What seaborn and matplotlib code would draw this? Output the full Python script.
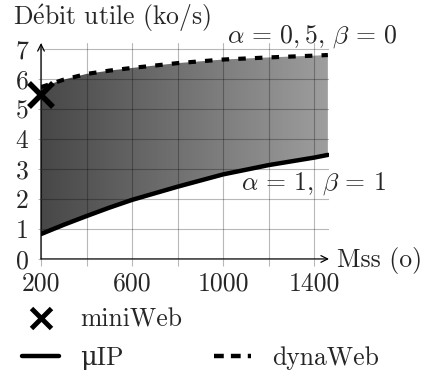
import numpy as np
import matplotlib
matplotlib.use("Agg")
import matplotlib.pyplot as plt
import seaborn as sns
from matplotlib.colors import LinearSegmentedColormap
from matplotlib.lines import Line2D

# ---- data ----
mss = [200, 300, 400, 500, 600, 800, 1000, 1200, 1400, 1460]
dynaweb = [5.73, 5.98, 6.17, 6.28, 6.37, 6.53, 6.65, 6.72, 6.78, 6.80]
uip = [0.83, 1.14, 1.43, 1.71, 1.97, 2.41, 2.82, 3.13, 3.38, 3.47]
miniweb_x = [200]
miniweb_y = [5.47]
xticks = [200, 400, 600, 800, 1000, 1200, 1400]
xticklabels = ["200", "", "600", "", "1000", "", "1400"]
yticks = [0, 1, 2, 3, 4, 5, 6, 7]

sns.set_theme(style="white")
plt.rcParams["font.family"] = ["cmr10", "DejaVu Serif"]
plt.rcParams["mathtext.fontset"] = "cm"
plt.rcParams["axes.formatter.use_mathtext"] = True
plt.rcParams["axes.unicode_minus"] = False

FS = 18.5
fig = plt.figure(figsize=(4.27, 3.71), dpi=100)
ax = fig.add_axes([0.096, 0.302, 0.6745, 0.582])

# gradient fill between the two curves
poly = ax.fill_between(mss, uip, dynaweb, facecolor="none", edgecolor="none")
cmap = LinearSegmentedColormap.from_list("g", [(0.28, 0.28, 0.28), (0.62, 0.62, 0.62)])
im = ax.imshow(np.linspace(0, 1, 256)[None, :], extent=[200, 1460, 0, 7.2],
               aspect="auto", cmap=cmap, zorder=1, origin="lower")
im.set_clip_path(poly.get_paths()[0], transform=ax.transData)

sns.lineplot(x=mss, y=uip, color="black", lw=3.2, ax=ax, zorder=3)
sns.lineplot(x=mss, y=dynaweb, color="black", lw=3.0, ax=ax, zorder=3,
             linestyle=(0, (1.8, 2.2)))
ax.plot(miniweb_x, miniweb_y, marker="x", ms=17, mew=4, color="black",
        ls="none", zorder=5, clip_on=False)

ax.set_xlim(200, 1465)
ax.set_ylim(0, 7.2)
ax.set_xticks(xticks)
ax.set_xticklabels(xticklabels)
ax.set_yticks(yticks)
ax.set_yticklabels([str(v) for v in yticks])
ax.grid(True, color="black", alpha=0.28, lw=0.8)
ax.set_axisbelow(False)
for s in ax.spines.values():
    s.set_visible(False)
ax.tick_params(axis="x", length=5, width=0.8, color=(0.72, 0.72, 0.72), pad=4,
               labelsize=FS, bottom=True)
ax.tick_params(axis="y", length=2, width=0.8, color=(0.72, 0.72, 0.72), pad=7,
               labelsize=FS, left=True)
ax.set_xlabel("")
ax.set_ylabel("")

# axes with arrow heads
ax.annotate("", xy=(1.0, 0), xytext=(0, 0), xycoords="axes fraction",
            arrowprops=dict(arrowstyle="->", lw=0.9, color="black",
                            shrinkA=0, shrinkB=0), zorder=6)
ax.annotate("", xy=(0, 1.0), xytext=(0, 0), xycoords="axes fraction",
            arrowprops=dict(arrowstyle="->", lw=0.9, color="black",
                            shrinkA=0, shrinkB=0), zorder=6)

fig.text(13 / 427, 1 - 18 / 371, r"D$\acute{\mathrm{e}}$bit utile (ko/s)",
         fontsize=FS, ha="left", va="center")
fig.text(227 / 427, 1 - 37 / 371, r"$\alpha\,=\,0,5,\,\beta\,=\,0$",
         fontsize=FS, ha="left", va="center")
fig.text(241 / 427, 1 - 184 / 371, r"$\alpha\,=\,1,\,\beta\,=\,1$",
         fontsize=FS, ha="left", va="center")
fig.text(337 / 427, 1 - 260 / 371, "Mss (o)", fontsize=FS,
         ha="left", va="center")

handles = [
    Line2D([], [], marker="x", ms=14, mew=3.5, ls="none", color="black"),
    Line2D([], [], color="black", lw=3.2),
    Line2D([], [], ls="none"),
    Line2D([], [], color="black", lw=3.2, linestyle=(0, (2.2, 1.6))),
]
labels = ["miniWeb", "\u03bcIP", "", "dynaWeb"]
fig.legend(handles, labels, ncol=2, loc="upper left",
           bbox_to_anchor=(22 / 427, 1 - 308 / 371), frameon=False,
           fontsize=FS, borderpad=0, borderaxespad=0, handlelength=1.45,
           handletextpad=0.8, columnspacing=1.25, labelspacing=0.55)

fig.savefig("out.png", dpi=100)
